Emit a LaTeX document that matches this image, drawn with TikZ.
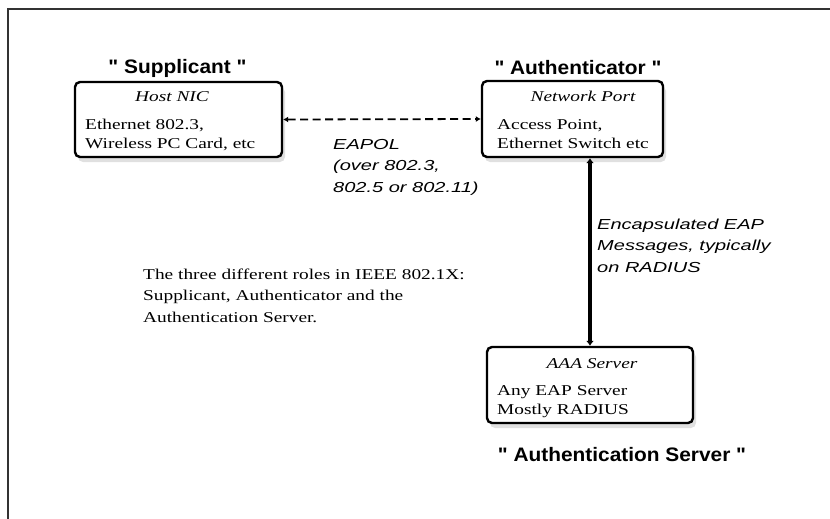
\documentclass[tikz,border=0pt]{standalone}
\usepackage{fontspec}
\setmainfont{Liberation Serif}[FakeStretch=1.29]
\newfontfamily\labfont{Liberation Sans}[FakeStretch=1.38]
\newfontfamily\titfont{Liberation Sans}[FakeStretch=1.07]
\usetikzlibrary{arrows.meta,shadows}
\tikzset{
  rolebox/.style={draw, line width=2.4pt, rounded corners=5pt, fill=white,
    drop shadow={shadow xshift=3pt, shadow yshift=-5pt, fill=black!12, opacity=1},
    inner sep=0pt},
  roletitle/.style={font=\titfont\bfseries\fontsize{19.5}{22}\selectfont, inner sep=0pt},
  boxtext/.style={font=\fontsize{15}{19.5}\selectfont, align=left, anchor=base west, inner sep=0pt},
  boxhead/.style={font=\itshape\fontsize{15}{19}\selectfont, anchor=base, inner sep=0pt},
  linklabel/.style={font=\labfont\itshape\fontsize{14.5}{21.5}\selectfont, align=left, anchor=base west, inner sep=0pt},
  caption/.style={font=\fontsize{15}{21.5}\selectfont, align=left, anchor=base west, inner sep=0pt},
  eapol/.style={line width=1.8pt, dash pattern=on 8pt off 4.5pt, {Latex[length=5pt,width=6pt]}-{Latex[length=5pt,width=6pt]}},
  radius/.style={line width=3.6pt, {Latex[length=5pt,width=8pt]}-{Latex[length=5pt,width=8pt]}},
}
\begin{document}
\begin{tikzpicture}[x=1pt,y=-1pt]
\useasboundingbox (0,0) rectangle (830,519);
% frame
\draw[line width=1.6pt, black!80] (830,9) -- (8,9) -- (8,519);

% boxes
\node[rolebox, minimum width=207pt, minimum height=75pt] (sup) at (178.5,119.5) {};
\node[rolebox, minimum width=181pt, minimum height=76pt] (auth) at (572.5,119) {};
\node[rolebox, minimum width=206pt, minimum height=76pt] (aaa) at (590,385) {};

% titles
\node[roletitle] (tsup) at (177.5,68) {" Supplicant "};
\node[roletitle] (tauth) at (578,68) {" Authenticator "};
\node[roletitle] (taaa) at (622,455) {" Authentication Server "};

% box contents (base anchor = baseline of last line)
\node[boxhead] (hsup) at (172,102) {Host NIC};
\node[boxtext] (bsup) at (85,148.5) {Ethernet 802.3,\\Wireless PC Card, etc};
\node[boxhead] (hauth) at (583,102) {Network Port};
\node[boxtext] (bauth) at (497,148.5) {Access Point,\\Ethernet Switch etc};
\node[boxhead] (haaa) at (592,368) {AAA Server};
\node[boxtext] (baaa) at (497,414.5) {Any EAP Server\\Mostly RADIUS};

% connectors
\draw[eapol] (sup.east) -- (auth.west);
\draw[radius] (aaa.north |- auth.south) -- (aaa.north);

% connector labels
\node[linklabel] (leapol) at (333,192) {EAPOL\\(over 802.3,\\802.5 or 802.11)};
\node[linklabel] (lrad) at (597,272) {Encapsulated EAP\\Messages, typically\\on RADIUS};

% caption
\node[caption] (cap) at (143,322) {The three different roles in IEEE 802.1X:\\Supplicant, Authenticator and the\\Authentication Server.};
\end{tikzpicture}
\end{document}
